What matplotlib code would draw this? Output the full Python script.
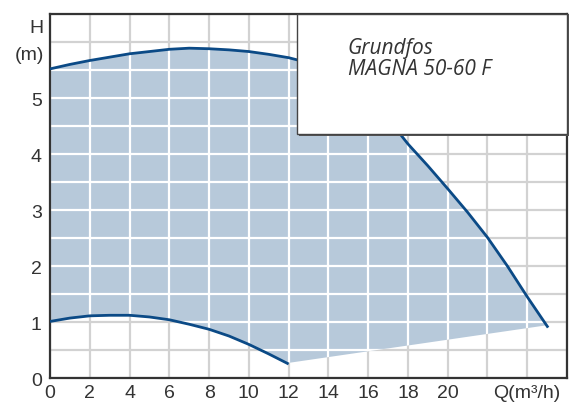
import numpy as np
import matplotlib
matplotlib.use('Agg')
import matplotlib.pyplot as plt
from matplotlib.patches import Polygon, Rectangle

# pump curve, max speed (upper) and min speed (lower)
q_max = [0, 1, 2, 3, 4, 5, 6, 7, 8, 9, 10, 11, 12, 13, 14, 15, 16, 17, 17.6,
         18, 19, 20, 21, 22, 23, 24, 25.05]
h_max = [5.52, 5.60, 5.67, 5.73, 5.79, 5.83, 5.87, 5.89, 5.88, 5.86, 5.83, 5.78, 5.72,
         5.63, 5.50, 5.30, 5.02, 4.62, 4.36, 4.18, 3.79, 3.38, 2.96, 2.51, 2.00, 1.45, 0.90]
q_min = [0, 1, 2, 3, 4, 5, 6, 7, 8, 9, 10, 11, 12]
h_min = [1.01, 1.07, 1.11, 1.12, 1.12, 1.09, 1.04, 0.96, 0.87, 0.75, 0.60, 0.43, 0.25]
# lower right boundary of the operating range
q_edge = [24.95, 12.0]
h_edge = [0.94, 0.27]

x_ticks = [0, 2, 4, 6, 8, 10, 12, 14, 16, 18, 20, 22, 24, 26]
x_labels = ['0', '2', '4', '6', '8', '10', '12', '14', '16', '18', '20', '', 'Q(m³/h)', '']
y_ticks = [0, 1, 2, 3, 4, 5]
y_grid = np.arange(0, 6.51, 0.5)
title_lines = ['Grundfos', 'MAGNA 50-60 F']

line_c = '#0b4a86'
fill_c = '#b7c9da'
grid_c = '#d2d2d2'

plt.rcParams['font.family'] = ['Liberation Sans', 'DejaVu Sans']

fig = plt.figure(figsize=(5.76, 4.06), dpi=100)
ax = fig.add_axes([0.0868, 0.0665, 0.8976, 0.8965])
ax.set_xlim(0, 26)
ax.set_ylim(0, 6.5)

for gx in x_ticks:
    ax.axvline(gx, color=grid_c, lw=1.6, zorder=0)
for gy in y_grid:
    ax.axhline(gy, color=grid_c, lw=1.6, zorder=0)

pts = list(zip(q_max, h_max)) + list(zip(q_edge, h_edge)) + list(zip(q_min[::-1], h_min[::-1]))
poly = Polygon(pts, closed=True, facecolor=fill_c, edgecolor='none', zorder=1)
ax.add_patch(poly)

# white grid inside the filled area
for gx in x_ticks:
    l = ax.axvline(gx, color='white', lw=1.6, zorder=2)
    l.set_clip_path(poly)
for gy in y_grid:
    l = ax.axhline(gy, color='white', lw=1.6, zorder=2)
    l.set_clip_path(poly)

ax.plot(q_max, h_max, color=line_c, lw=2.0, zorder=3, solid_capstyle='butt')
ax.plot(q_min, h_min, color=line_c, lw=2.0, zorder=3, solid_capstyle='butt')

ax.set_xticks(x_ticks)
ax.set_xticklabels(x_labels)
ax.set_yticks(y_ticks)
ax.tick_params(length=0, labelsize=14, colors='#333333')
ax.tick_params(axis='x', pad=4)
ax.tick_params(axis='y', pad=6)
for s in ax.spines.values():
    s.set_color('#333333')
    s.set_linewidth(1.6)

ax.text(-0.012, 0.964, 'H', transform=ax.transAxes, ha='right', va='center',
        fontsize=14, color='#333333')
ax.text(-0.012, 0.89, '(m)', transform=ax.transAxes, ha='right', va='center',
        fontsize=14, color='#333333')

# name box
ax.add_patch(Rectangle((0.481, 0.664), 0.522, 0.336, transform=ax.transAxes,
                       facecolor='#555555', edgecolor='none', clip_on=False, zorder=5))
ax.add_patch(Rectangle((0.478, 0.670), 0.522, 0.330, transform=ax.transAxes,
                       facecolor='white', edgecolor='#444444', lw=1.0, clip_on=False, zorder=6))
ax.text(0.576, 0.909, title_lines[0], transform=ax.transAxes, ha='left', va='center',
        fontsize=15, style='italic', family=['Open Sans', 'DejaVu Sans'], color='#333333', zorder=7)
ax.text(0.576, 0.849, title_lines[1], transform=ax.transAxes, ha='left', va='center',
        fontsize=15, style='italic', family=['Open Sans', 'DejaVu Sans'], color='#333333', zorder=7)

fig.savefig('out.png', dpi=100)
